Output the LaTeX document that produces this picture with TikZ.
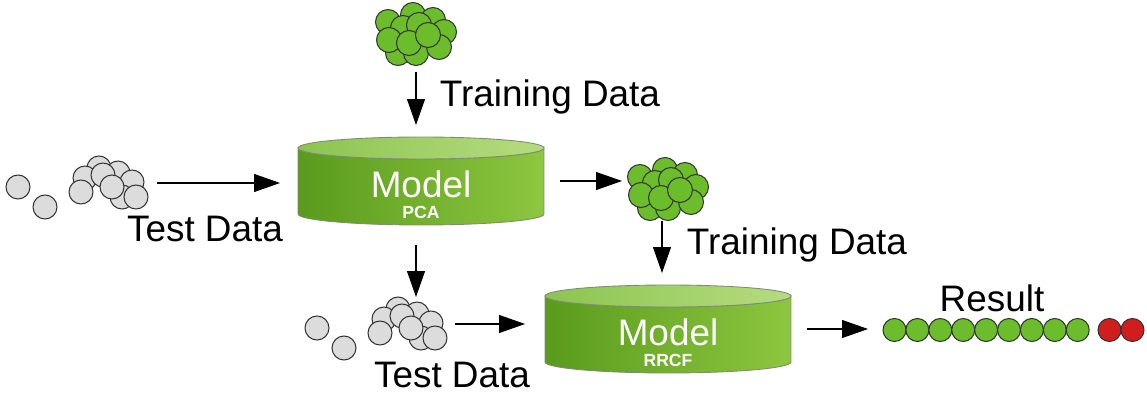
\documentclass[tikz,border=0pt]{standalone}
\usepackage{fontspec}
\setmainfont{Liberation Sans}
\usetikzlibrary{arrows.meta, calc}
\definecolor{cgreen}{HTML}{6CBD2C}
\definecolor{cbodyl}{HTML}{5A9B1D}
\definecolor{cbodyr}{HTML}{8DC63F}
\definecolor{ctopl}{HTML}{8CC450}
\definecolor{ctopr}{HTML}{B5DC80}
\definecolor{cred}{HTML}{D01E1E}
\definecolor{cgrey}{HTML}{DCDCDC}
\definecolor{cedge}{HTML}{333333}
\definecolor{crim}{HTML}{7F8C70}
\tikzset{
  every picture/.style={line width=0.6pt},
  arrow/.style={-{Triangle[length=0.52cm, width=0.36cm]}, draw=black},
  caption/.style={font=\fontsize{21}{25}\selectfont, anchor=base, inner sep=0pt},
  heap/.style={minimum width=1.6cm, minimum height=1.2cm, inner sep=0pt, outer sep=0pt},
  model/.style={minimum width=4.92cm, minimum height=1.76cm, inner sep=0pt, outer sep=0pt},
  modeltitle/.style={caption, text=white},
  modelsub/.style={font=\fontsize{10}{12}\selectfont\bfseries, anchor=base, inner sep=0pt, text=white},
}
\begin{document}
\begin{tikzpicture}[x=0.02cm, y=0.02cm,
  gball/.style={draw=cedge, fill=cgreen}, wball/.style={draw=cedge, fill=cgrey}, rball/.style={draw=cedge, fill=cred}]
  \useasboundingbox (0,0) rectangle (1147,399);
  % data heaps
  \node[heap] (train1) at (416,364) {};
  \node[heap] (train2) at (668,209) {};
  \node[heap, minimum height=1.08cm] (test1) at (108,216) {};
  \node[heap, minimum height=1.08cm] (test2) at (407,75) {};
  \foreach \h in {train1, train2}
    \foreach \dx/\dy in {-3/20, 17/15, 28/3, -28/13, -13/7, 3/10, -18/-18, 0/-18, 23/-12, -27/-5, -7/-8, 12/0}
      \draw[gball] ($(\h)+(\dx,\dy)$) circle[radius=0.25cm];
  \foreach \h in {test1, test2}
    \foreach \dx/\dy in {-90/-4, -63/-24, -9/15, 10/10, 24/1, -23/5, -5/8, 14/-14, -27/-9, 4/-4, 28/-14}
      \draw[wball] ($(\h)+(\dx,\dy)$) circle[radius=0.24cm];
  % models
  \foreach \n/\cx/\cy/\sub in {pca/421/218/PCA, rrcf/668/70/RRCF} {
    \node[model] (\n) at (\cx,\cy) {};
    \shadedraw[left color=cbodyl, right color=cbodyr, draw=crim, line width=0.5pt]
      ($(\n.north west)+(0,-11)$) -- ($(\n.south west)+(0,11)$)
      arc[start angle=180, end angle=360, x radius=2.46cm, y radius=0.22cm]
      -- ($(\n.north east)+(0,-11)$)
      arc[start angle=0, end angle=-180, x radius=2.46cm, y radius=0.22cm] -- cycle;
    \shadedraw[left color=ctopl, right color=ctopr, draw=crim, line width=0.5pt]
      ($(\n.north)+(0,-11)$) ellipse[x radius=2.46cm, y radius=0.22cm];
    \node[modeltitle] (\n-title) at ($(\n)+(0,-17)$) {Model};
    \node[modelsub] (\n-sub) at ($(\n)+(0,-38)$) {\sub};
  }
  % result
  \node[inner sep=0pt, minimum width=5.22cm, minimum height=0.46cm] (result) at (1014,69) {};
  \foreach \k in {0,...,8}
    \draw[gball] ($(result.west)+(11.5+22.9*\k,0)$) circle[radius=0.23cm];
  \foreach \dx in {226.5, 249.5}
    \draw[rball] ($(result.west)+(\dx,0)$) circle[radius=0.23cm];
  % arrows
  \draw[arrow, shorten <=0.14cm, shorten >=0.24cm] (train1.south) -- (train1.south |- pca.north);
  \draw[arrow, shorten <=0.18cm, shorten >=0.36cm] (test1.east) -- (test1.east -| pca.west);
  \draw[arrow, shorten <=0.4cm] ($(pca.south)+(-5,0)$) -- (train1 |- test2.north);
  \draw[arrow, shorten <=0.32cm, shorten >=0.12cm] (pca.east) -- (pca.east -| train2.west);
  \draw[arrow, shorten <=0.02cm, shorten >=0.24cm] ($(train2.south)+(-6,0)$) -- ($(train2.south |- rrcf.north)+(-6,0)$);
  \draw[arrow, shorten <=0.16cm, shorten >=0.4cm] (test2.east) -- (test2.east -| rrcf.west);
  \draw[arrow, shorten <=0.32cm, shorten >=0.3cm] (rrcf.east) -- (rrcf.east -| result.west);
  % labels
  \node[caption] (trainlbl1) at (550,292) {Training Data};
  \node[caption] (trainlbl2) at (797,144) {Training Data};
  \node[caption] (testlbl1) at (205,157) {Test Data};
  \node[caption] (testlbl2) at (452,11) {Test Data};
  \node[caption] (resultlbl) at (992,87) {Result};
\end{tikzpicture}
\end{document}
